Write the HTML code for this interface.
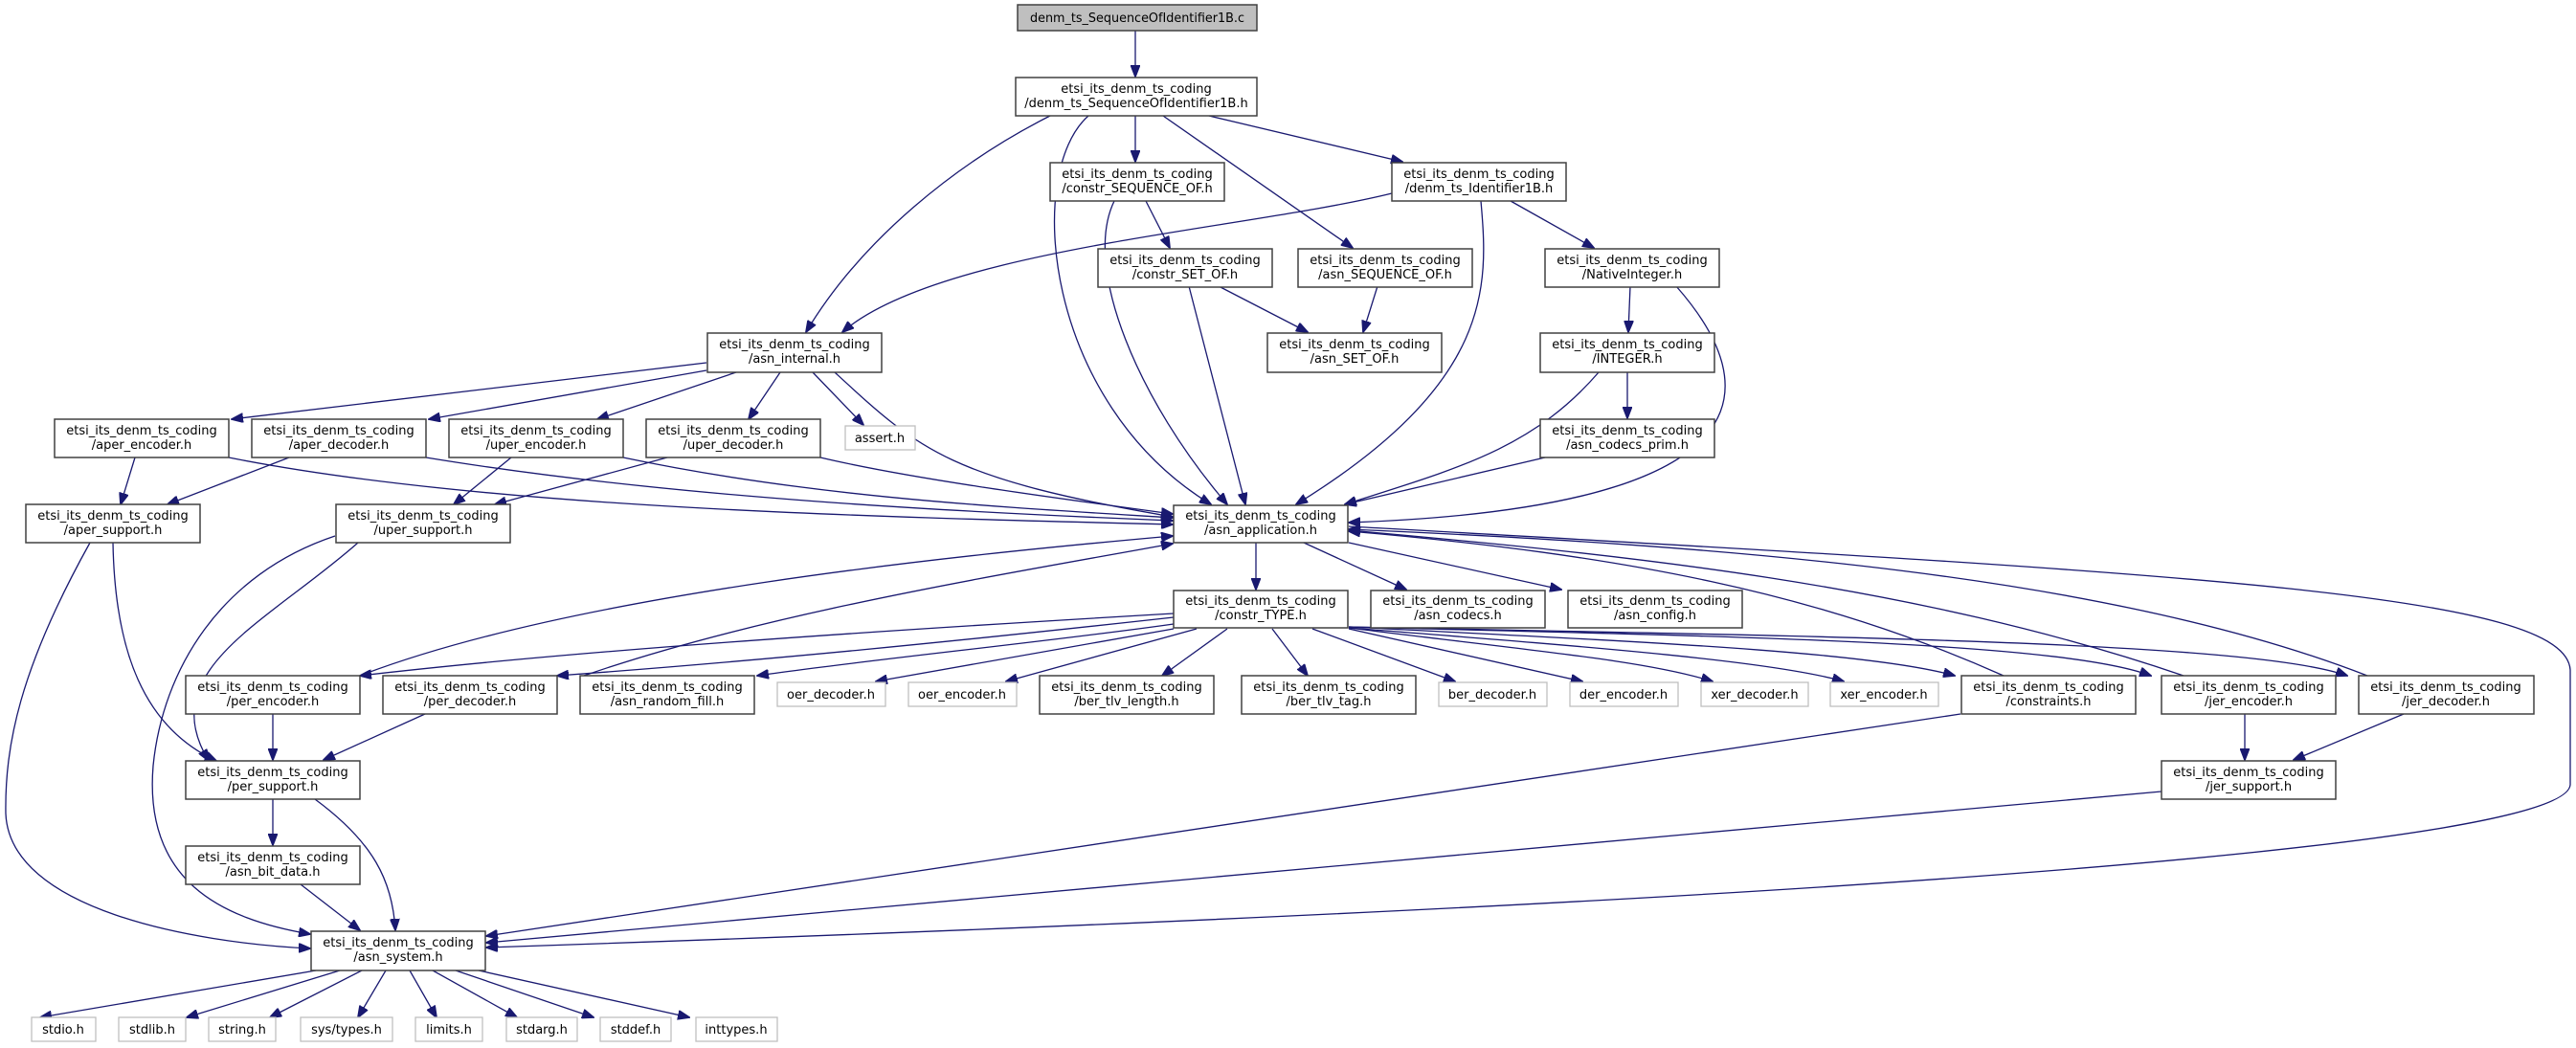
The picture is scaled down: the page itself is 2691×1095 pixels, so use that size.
<!DOCTYPE html>
<html><head><meta charset="utf-8"><style>
html,body{margin:0;padding:0;background:#fff}
svg{display:block}
text{font-family:"DejaVu Sans","Liberation Sans",sans-serif;font-size:13px;fill:#000;text-anchor:middle}
.b{fill:#fff;stroke:#404040;stroke-width:1.5}
.g{fill:#fff;stroke:#bfbfbf;stroke-width:1.3}
.e{fill:none;stroke:#191970;stroke-width:1.3;marker-end:url(#a)}
</style></head><body>
<svg width="2691" height="1095" viewBox="0 0 2691 1095" xmlns="http://www.w3.org/2000/svg">
<defs><marker id="a" markerWidth="13" markerHeight="10" refX="12" refY="5" orient="auto" markerUnits="userSpaceOnUse"><path d="M0,0 L13,5 L0,10z" fill="#191970" stroke="#191970"/></marker></defs>

<!-- edges -->
<g>
<path class="e" d="M1186,32 L1186,80"/>
<path class="e" d="M1097,121 C1000,170 900,250 842,347"/>
<path class="e" d="M1137,121 C1070,180 1090,420 1265,527"/>
<path class="e" d="M1186,121 L1186,169"/>
<path class="e" d="M1215,121 L1413,259"/>
<path class="e" d="M1263,121 L1465,169"/>
<path class="e" d="M1197,210 L1222,259"/>
<path class="e" d="M1164,210 C1130,280 1190,420 1282,527"/>
<path class="e" d="M1273,299 L1366,347"/>
<path class="e" d="M1242,299 L1301,527"/>
<path class="e" d="M1454,202 C1300,240 980,260 880,347"/>
<path class="e" d="M1547,210 C1555,300 1560,400 1354,527"/>
<path class="e" d="M1578,210 L1665,259"/>
<path class="e" d="M1439,299 L1424,347"/>
<path class="e" d="M1703,299 L1701,347"/>
<path class="e" d="M1751,299 C1840,400 1860,530 1409,546"/>
<path class="e" d="M1700,389 L1700,437"/>
<path class="e" d="M1670,389 C1600,470 1520,490 1405,527"/>
<path class="e" d="M1614,478 L1405,527"/>
<path class="e" d="M738,379 L242,438"/>
<path class="e" d="M738,387 L448,438"/>
<path class="e" d="M769,389 L624,438"/>
<path class="e" d="M815,389 L782,438"/>
<path class="e" d="M849,389 L902,444"/>
<path class="e" d="M872,389 C960,470 990,500 1225,540"/>
<path class="e" d="M141,478 L126,527"/>
<path class="e" d="M239,478 C500,530 900,540 1225,548"/>
<path class="e" d="M302,478 L175,527"/>
<path class="e" d="M445,478 C700,520 1000,535 1225,544"/>
<path class="e" d="M534,478 L474,527"/>
<path class="e" d="M651,478 C850,520 1050,530 1225,541"/>
<path class="e" d="M697,478 L517,527"/>
<path class="e" d="M857,478 C950,500 1100,520 1225,537"/>
<path class="e" d="M118,567 C120,680 150,760 226,795"/>
<path class="e" d="M94,567 C20,700 5,780 6,850 C10,950 200,985 324,991"/>
<path class="e" d="M374,567 C280,650 160,700 218,795"/>
<path class="e" d="M350,560 C230,600 170,700 160,800 C150,920 230,960 324,976"/>
<path class="e" d="M285,746 L285,794"/>
<path class="e" d="M444,746 L338,794"/>
<path class="e" d="M285,835 L285,883"/>
<path class="e" d="M329,835 C390,880 410,920 413,972"/>
<path class="e" d="M314,924 L376,972"/>
<path class="e" d="M330,1014 L42,1063"/>
<path class="e" d="M355,1014 L195,1063"/>
<path class="e" d="M378,1014 L282,1063"/>
<path class="e" d="M403,1014 L374,1063"/>
<path class="e" d="M428,1014 L456,1063"/>
<path class="e" d="M452,1014 L540,1063"/>
<path class="e" d="M476,1014 L620,1063"/>
<path class="e" d="M500,1014 L720,1063"/>
<path class="e" d="M1312,567 L1312,616"/>
<path class="e" d="M376,706 C600,620 1000,580 1225,560"/>
<path class="e" d="M610,706 C800,640 1050,600 1225,568"/>
<path class="e" d="M1226,641 C900,660 600,680 376,706"/>
<path class="e" d="M1226,645 C1000,670 800,690 582,706"/>
<path class="e" d="M1226,652 C1100,670 900,690 791,706"/>
<path class="e" d="M1226,657 C1100,680 980,700 915,712"/>
<path class="e" d="M1250,657 L1051,712"/>
<path class="e" d="M1282,657 L1214,706"/>
<path class="e" d="M1329,657 L1366,706"/>
<path class="e" d="M1371,657 L1520,712"/>
<path class="e" d="M1409,657 L1653,712"/>
<path class="e" d="M1409,656 C1600,680 1720,690 1789,712"/>
<path class="e" d="M1409,656 C1650,675 1850,690 1926,712"/>
<path class="e" d="M1409,655 C1700,670 1950,680 2042,706"/>
<path class="e" d="M1409,655 C1800,665 2150,670 2247,706"/>
<path class="e" d="M1409,655 C1900,665 2350,670 2452,706"/>
<path class="e" d="M2093,706 C1900,620 1700,580 1409,555"/>
<path class="e" d="M2281,706 C2000,610 1700,580 1409,554"/>
<path class="e" d="M2473,706 C2200,600 1800,570 1409,553"/>
<path class="e" d="M1409,550 C2300,600 2680,620 2685,700 L2685,820 C2680,880 2000,940 508,990"/>
<path class="e" d="M1362,567 L1469,616"/>
<path class="e" d="M1409,567 L1631,616"/>
<path class="e" d="M2048,746 L508,978"/>
<path class="e" d="M2345,746 L2345,794"/>
<path class="e" d="M2511,746 L2396,794"/>
<path class="e" d="M2258,827 L508,985"/>
</g>

<!-- nodes -->
<g>
<rect x="1063" y="5" width="250" height="27" fill="#bfbfbf" stroke="#404040" stroke-width="1.5"/>
<text x="1188" y="23" textLength="224" lengthAdjust="spacingAndGlyphs">denm_ts_SequenceOfIdentifier1B.c</text>

<rect class="b" x="1061" y="81" width="252" height="40"/>
<text x="1187" y="97">etsi_its_denm_ts_coding</text><text x="1187" y="112">/denm_ts_SequenceOfIdentifier1B.h</text>
</g>
<g id="std">
<rect class="b" x="1097" y="170" width="182" height="40"/><text x="1188" y="186">etsi_its_denm_ts_coding</text><text x="1188" y="201">/constr_SEQUENCE_OF.h</text>
<rect class="b" x="1454" y="170" width="182" height="40"/><text x="1545" y="186">etsi_its_denm_ts_coding</text><text x="1545" y="201">/denm_ts_Identifier1B.h</text>
<rect class="b" x="1147" y="260" width="182" height="40"/><text x="1238" y="276">etsi_its_denm_ts_coding</text><text x="1238" y="291">/constr_SET_OF.h</text>
<rect class="b" x="1356" y="260" width="182" height="40"/><text x="1447" y="276">etsi_its_denm_ts_coding</text><text x="1447" y="291">/asn_SEQUENCE_OF.h</text>
<rect class="b" x="1614" y="260" width="182" height="40"/><text x="1705" y="276">etsi_its_denm_ts_coding</text><text x="1705" y="291">/NativeInteger.h</text>
<rect class="b" x="739" y="348" width="182" height="41"/><text x="830" y="364">etsi_its_denm_ts_coding</text><text x="830" y="379">/asn_internal.h</text>
<rect class="b" x="1324" y="348" width="182" height="41"/><text x="1415" y="364">etsi_its_denm_ts_coding</text><text x="1415" y="379">/asn_SET_OF.h</text>
<rect class="b" x="1609" y="348" width="182" height="41"/><text x="1700" y="364">etsi_its_denm_ts_coding</text><text x="1700" y="379">/INTEGER.h</text>
<rect class="b" x="57" y="438" width="182" height="40"/><text x="148" y="454">etsi_its_denm_ts_coding</text><text x="148" y="469">/aper_encoder.h</text>
<rect class="b" x="263" y="438" width="182" height="40"/><text x="354" y="454">etsi_its_denm_ts_coding</text><text x="354" y="469">/aper_decoder.h</text>
<rect class="b" x="469" y="438" width="182" height="40"/><text x="560" y="454">etsi_its_denm_ts_coding</text><text x="560" y="469">/uper_encoder.h</text>
<rect class="b" x="675" y="438" width="182" height="40"/><text x="766" y="454">etsi_its_denm_ts_coding</text><text x="766" y="469">/uper_decoder.h</text>
<rect class="g" x="883" y="445" width="73" height="25"/><text x="919" y="462">assert.h</text>
<rect class="b" x="1609" y="438" width="182" height="40"/><text x="1700" y="454">etsi_its_denm_ts_coding</text><text x="1700" y="469">/asn_codecs_prim.h</text>
<rect class="b" x="27" y="527" width="182" height="40"/><text x="118" y="543">etsi_its_denm_ts_coding</text><text x="118" y="558">/aper_support.h</text>
<rect class="b" x="351" y="527" width="182" height="40"/><text x="442" y="543">etsi_its_denm_ts_coding</text><text x="442" y="558">/uper_support.h</text>
<rect class="b" x="1226" y="528" width="182" height="39"/><text x="1317" y="543">etsi_its_denm_ts_coding</text><text x="1317" y="558">/asn_application.h</text>
<rect class="b" x="1226" y="617" width="182" height="39"/><text x="1317" y="632">etsi_its_denm_ts_coding</text><text x="1317" y="647">/constr_TYPE.h</text>
<rect class="b" x="1432" y="617" width="182" height="39"/><text x="1523" y="632">etsi_its_denm_ts_coding</text><text x="1523" y="647">/asn_codecs.h</text>
<rect class="b" x="1638" y="617" width="182" height="39"/><text x="1729" y="632">etsi_its_denm_ts_coding</text><text x="1729" y="647">/asn_config.h</text>
<rect class="b" x="194" y="706" width="182" height="40"/><text x="285" y="722">etsi_its_denm_ts_coding</text><text x="285" y="737">/per_encoder.h</text>
<rect class="b" x="400" y="706" width="182" height="40"/><text x="491" y="722">etsi_its_denm_ts_coding</text><text x="491" y="737">/per_decoder.h</text>
<rect class="b" x="606" y="706" width="182" height="40"/><text x="697" y="722">etsi_its_denm_ts_coding</text><text x="697" y="737">/asn_random_fill.h</text>
<rect class="g" x="812" y="713" width="113" height="25"/><text x="868" y="730">oer_decoder.h</text>
<rect class="g" x="949" y="713" width="113" height="25"/><text x="1005" y="730">oer_encoder.h</text>
<rect class="b" x="1086" y="706" width="182" height="40"/><text x="1177" y="722">etsi_its_denm_ts_coding</text><text x="1177" y="737">/ber_tlv_length.h</text>
<rect class="b" x="1297" y="706" width="182" height="40"/><text x="1388" y="722">etsi_its_denm_ts_coding</text><text x="1388" y="737">/ber_tlv_tag.h</text>
<rect class="g" x="1503" y="713" width="113" height="25"/><text x="1559" y="730">ber_decoder.h</text>
<rect class="g" x="1640" y="713" width="113" height="25"/><text x="1696" y="730">der_encoder.h</text>
<rect class="g" x="1777" y="713" width="112" height="25"/><text x="1833" y="730">xer_decoder.h</text>
<rect class="g" x="1912" y="713" width="113" height="25"/><text x="1968" y="730">xer_encoder.h</text>
<rect class="b" x="2049" y="706" width="182" height="40"/><text x="2140" y="722">etsi_its_denm_ts_coding</text><text x="2140" y="737">/constraints.h</text>
<rect class="b" x="2258" y="706" width="182" height="40"/><text x="2349" y="722">etsi_its_denm_ts_coding</text><text x="2349" y="737">/jer_encoder.h</text>
<rect class="b" x="2464" y="706" width="183" height="40"/><text x="2555" y="722">etsi_its_denm_ts_coding</text><text x="2555" y="737">/jer_decoder.h</text>
<rect class="b" x="194" y="795" width="182" height="40"/><text x="285" y="811">etsi_its_denm_ts_coding</text><text x="285" y="826">/per_support.h</text>
<rect class="b" x="2258" y="795" width="182" height="40"/><text x="2349" y="811">etsi_its_denm_ts_coding</text><text x="2349" y="826">/jer_support.h</text>
<rect class="b" x="194" y="884" width="182" height="40"/><text x="285" y="900">etsi_its_denm_ts_coding</text><text x="285" y="915">/asn_bit_data.h</text>
<rect class="b" x="325" y="973" width="182" height="41"/><text x="416" y="989">etsi_its_denm_ts_coding</text><text x="416" y="1004">/asn_system.h</text>
<rect class="g" x="33" y="1063" width="67" height="25"/><text x="66" y="1080">stdio.h</text>
<rect class="g" x="124" y="1063" width="70" height="25"/><text x="159" y="1080">stdlib.h</text>
<rect class="g" x="218" y="1063" width="70" height="25"/><text x="253" y="1080">string.h</text>
<rect class="g" x="314" y="1063" width="96" height="25"/><text x="362" y="1080">sys/types.h</text>
<rect class="g" x="434" y="1063" width="70" height="25"/><text x="469" y="1080">limits.h</text>
<rect class="g" x="529" y="1063" width="74" height="25"/><text x="566" y="1080">stdarg.h</text>
<rect class="g" x="627" y="1063" width="74" height="25"/><text x="664" y="1080">stddef.h</text>
<rect class="g" x="727" y="1063" width="85" height="25"/><text x="769" y="1080">inttypes.h</text>
</g>
</svg>
</body></html>
